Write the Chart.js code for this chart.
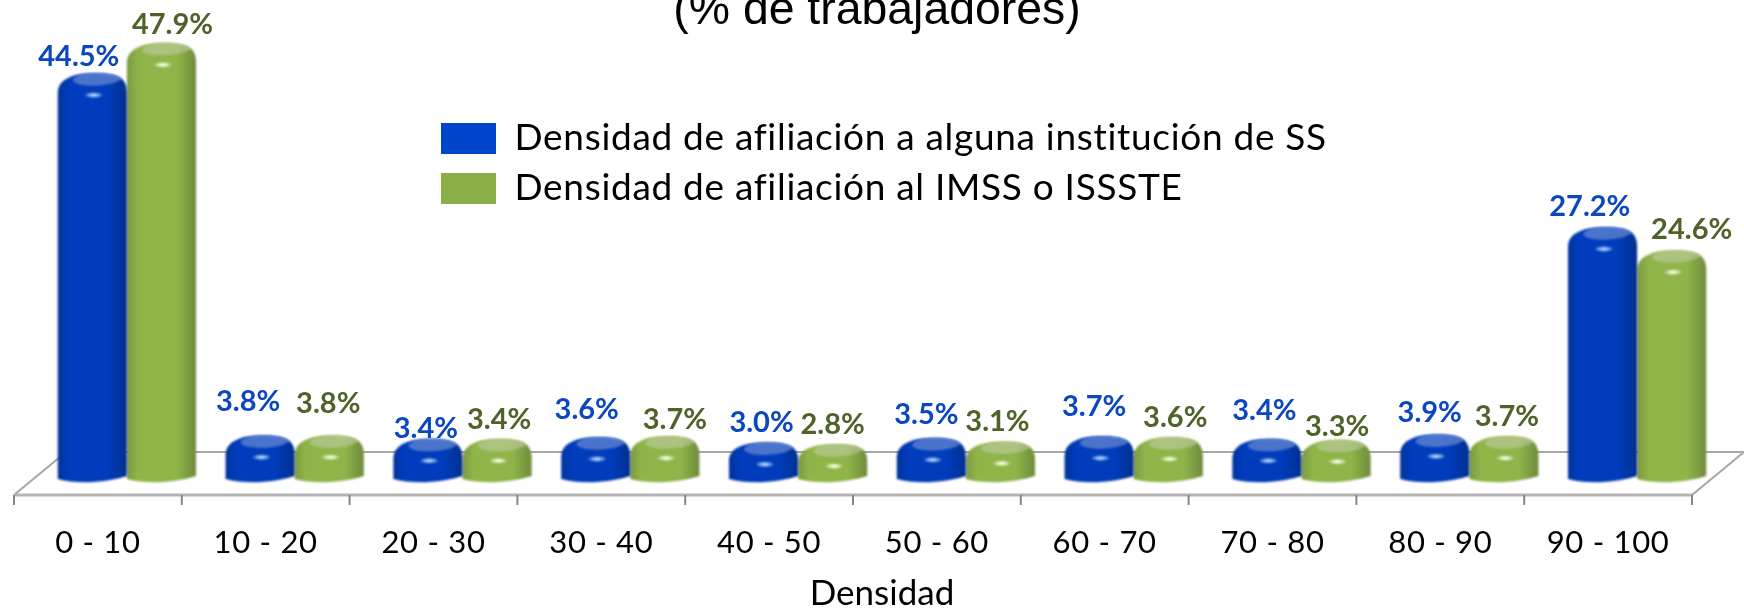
<!DOCTYPE html>
<html><head><meta charset="utf-8">
<style>html,body{margin:0;padding:0;background:#fff;overflow:hidden}canvas{display:block}</style>
<script src="https://cdn.jsdelivr.net/npm/chart.js@4/dist/chart.umd.js"></script>
</head><body><canvas id="c" width="1744" height="608"></canvas>
<script>
const categories = ['0 - 10','10 - 20','20 - 30','30 - 40','40 - 50','50 - 60','60 - 70','70 - 80','80 - 90','90 - 100'];
const seriesNames = ['Densidad de afiliación a alguna institución de SS','Densidad de afiliación al IMSS o ISSSTE'];
const afiliacionSS = [44.5,3.8,3.4,3.6,3.0,3.5,3.7,3.4,3.9,27.2];
const afiliacionIMSS = [47.9,3.8,3.4,3.7,2.8,3.1,3.6,3.3,3.7,24.6];
const titleText = '(% de trabajadores)';
const xAxisTitle = 'Densidad';

// hand-placed data label nudges of the original
const labelNudgeSS = [[-13.5,-23.4],[-12,-41],[-2,-17.5],[-9,-34],[-2,-27],[-5,-30],[-5,-36],[-2.5,-35.5],[-5,-29],[-12.7,-27]];
const labelNudgeIMSS = [[11,-25],[-1,-38.5],[2,-26],[10,-23],[0,-26],[-3,-27],[7,-26],[1,-20],[3,-26],[20,-27]];

const SHIFT = 29; // 3D depth offset of the bars from the floor slots
const looks = {
  '#0046cd': {edgeL:'#00339a',mid:'#003cbc',edgeR:'#002f8e',cap:'rgba(120,150,215,0.62)',glow:'#8fc4ff'},
  '#8cae47': {edgeL:'#7b983f',mid:'#8fb549',edgeR:'#6f8a3c',cap:'rgba(195,205,170,0.55)',glow:'#f4ffd0'}
};

const BarEl = Chart.registry.getElement('bar');
BarEl.prototype.draw = function(ctx){
  const p = this.getProps(['x','y','base','width'], true);
  const look = looks[this.options.backgroundColor];
  const w = p.width, L = p.x + SHIFT - w/2, R = L + w, T = p.y - 7, B = p.base + 7;
  const sh = Math.min(20, (B - T) * 0.45);
  ctx.save();
  ctx.filter = 'blur(0.8px)';
  ctx.beginPath();
  ctx.moveTo(L, B-4);
  ctx.lineTo(L, T+sh);
  ctx.bezierCurveTo(L, T+sh*0.25, L+w*0.25, T, L+w*0.55, T);
  ctx.bezierCurveTo(R-w*0.1, T, R, T+sh*0.3, R, T+sh);
  ctx.lineTo(R, B-7);
  ctx.bezierCurveTo(R-w*0.25, B-1, L+w*0.3, B+2, L, B-4);
  ctx.closePath();
  const g = ctx.createLinearGradient(L,0,R,0);
  g.addColorStop(0,look.edgeL); g.addColorStop(0.16,look.mid); g.addColorStop(0.72,look.mid); g.addColorStop(1,look.edgeR);
  ctx.fillStyle = g;
  ctx.fill();
  ctx.clip();
  // lighter cap on top
  ctx.beginPath();
  ctx.ellipse(p.x+SHIFT+w*0.08, T+5.5, w*0.36, 7, -0.07, 0, Math.PI*2);
  ctx.fillStyle = look.cap;
  ctx.fill();
  // highlight
  ctx.translate(p.x+SHIFT+w*0.02, T+22);
  ctx.scale(3.2,1);
  const r = ctx.createRadialGradient(0,0,0,0,0,3);
  r.addColorStop(0,'#ffffff'); r.addColorStop(0.3,look.glow); r.addColorStop(1,'rgba(255,255,255,0)');
  ctx.fillStyle = r;
  ctx.beginPath(); ctx.arc(0,0,3,0,Math.PI*2); ctx.fill();
  ctx.restore();
};

const floorPlugin = {
  id:'floor',
  beforeDraw(chart){
    // legend sits inside the plot, over the floor's back wall area
    const lg = chart.legend;
    lg.left = 428; lg.top = 107; lg.right = 1400; lg.bottom = 420;
    chart.ctx.letterSpacing = '0.7px';
  },
  beforeDatasetsDraw(chart){
    const {ctx, scales:{x}} = chart;
    const frontY = 495, backY = 452, tickEnd = 505;
    const step = x.getPixelForValue(1) - x.getPixelForValue(0);
    const first = x.getPixelForValue(0) - step/2, last = x.getPixelForValue(categories.length-1) + step/2;
    ctx.save();
    ctx.letterSpacing = '0px';
    ctx.filter = 'blur(0.5px)';
    ctx.strokeStyle = '#a8a8a8'; ctx.lineWidth = 2.2;
    ctx.beginPath();
    ctx.moveTo(first+52, backY); ctx.lineTo(1744, backY);
    ctx.moveTo(first, frontY); ctx.lineTo(first+52, backY);
    ctx.moveTo(last, frontY); ctx.lineTo(last+52, backY);
    ctx.stroke();
    ctx.strokeStyle = '#b4b4b4'; ctx.lineWidth = 3.2;
    ctx.beginPath(); ctx.moveTo(first, frontY); ctx.lineTo(last, frontY); ctx.stroke();
    ctx.strokeStyle = '#868686'; ctx.lineWidth = 2;
    ctx.beginPath();
    categories.concat(['']).forEach((_,i)=>{
      const px = first + i*step;
      ctx.moveTo(px, frontY); ctx.lineTo(px, tickEnd);
    });
    ctx.stroke();
    ctx.restore();
  },
  afterDatasetsDraw(chart){
    const {ctx} = chart;
    ctx.save();
    ctx.letterSpacing = '0px';
    ctx.textAlign = 'center'; ctx.textBaseline = 'middle';
    ctx.font = 'bold 29px Lato';
    [[labelNudgeSS,'#0a47c0'],[labelNudgeIMSS,'#4f6228']].forEach(([nudge,col],d)=>{
      const meta = chart.getDatasetMeta(d);
      ctx.fillStyle = col;
      meta.data.forEach((bar,i)=>{
        const v = chart.data.datasets[d].data[i];
        ctx.fillText(v.toFixed(1)+'%', bar.x+SHIFT+nudge[i][0], bar.y+nudge[i][1]);
      });
    });
    // title, cut by the top of the picture, and axis title
    ctx.fillStyle = '#000';
    ctx.textBaseline = 'alphabetic';
    ctx.font = '46.4px "Liberation Sans"';
    ctx.fillText(titleText, 877, 24);
    ctx.textBaseline = 'middle';
    ctx.font = '35px Lato';
    ctx.fillText(xAxisTitle, 882, 594);
    ctx.restore();
  }
};

new Chart(document.getElementById('c'), {
  type:'bar',
  data:{labels:categories, datasets:[
    {label:seriesNames[0], data:afiliacionSS, backgroundColor:'#0046cd', borderWidth:0, clip:false},
    {label:seriesNames[1], data:afiliacionIMSS, backgroundColor:'#8cae47', borderWidth:0, clip:false}
  ]},
  options:{
    responsive:false, animation:false,
    layout:{padding:{left:14,right:52,top:0,bottom:0}},
    datasets:{bar:{barPercentage:1,categoryPercentage:0.824}},
    scales:{
      x:{
        afterFit(s){ s.height = 132; },
        grid:{display:false,drawTicks:false}, border:{display:false},
        ticks:{color:'#000',font:{family:'Lato',size:31},padding:48,maxRotation:0,autoSkip:false}
      },
      y:{display:false,min:0,max:53.5}
    },
    plugins:{
      legend:{position:'chartArea',align:'start',
        labels:{color:'#000',font:{family:'Lato',size:37},boxWidth:55,boxHeight:31,padding:13}},
      tooltip:{enabled:false},
      title:{display:false}
    }
  },
  plugins:[floorPlugin]
});
</script></body></html>
